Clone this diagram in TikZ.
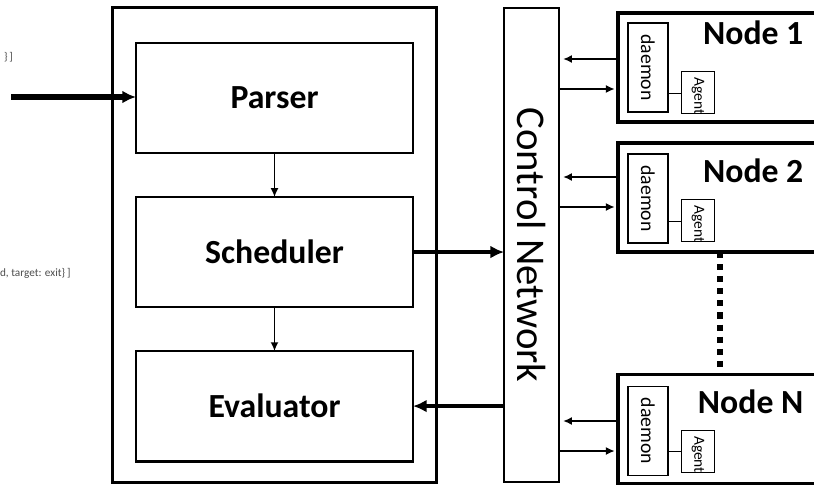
\documentclass[tikz,border=0pt]{standalone}
\usepackage{fontspec}
\setmainfont{Carlito}
\usetikzlibrary{arrows.meta,calc,positioning}

\begin{document}
\begin{tikzpicture}[x=0.025cm,y=-0.025cm,
  every node/.style={font=\fontsize{14}{16}\selectfont,outer sep=0pt},
  block/.style={draw,line width=2pt,minimum width=6.925cm,minimum height=2.75cm,
                font=\fontsize{24}{28}\selectfont\bfseries},
  outer/.style={draw,line width=2.1pt,minimum width=8.075cm,minimum height=11.85cm},
  net/.style={draw,line width=1.4pt,minimum width=1.375cm,minimum height=11.85cm,
              font=\fontsize{29}{34}\selectfont},
  host/.style={draw,line width=2.4pt,minimum width=5.1cm,minimum height=2.725cm},
  hostlabel/.style={font=\fontsize{24}{28}\selectfont\bfseries,anchor=base east},
  daemonbox/.style={draw,line width=1.2pt,minimum width=1cm,minimum height=2.225cm,
                    anchor=north west},
  agentbox/.style={draw,line width=0.7pt,minimum width=0.8cm,minimum height=1.05cm,
                   inner sep=0pt,font=\fontsize{11}{12}\selectfont,anchor=south west},
  stray/.style={font=\fontsize{8}{9}\selectfont,text=black!70,anchor=west,inner sep=0pt},
  arr/.style={-{Latex[length=2.2mm,width=2mm]},line width=1.4pt},
  bigarr/.style={-{Latex[length=3.4mm,width=3.2mm]},line width=3.2pt},
  dots/.style={line width=4.3pt,dash pattern=on 4.3pt off 4.3pt}
]
\useasboundingbox (0,0) rectangle (814,485);
\clip (0,0) rectangle (814,485);

% cut-off text at the left
\node[stray] (s1) at (4,57) {\}\,]};
\node[stray] (s2) at (0,273) {d, target: exit\}\,]};

% engine
\node[block] (parser) at (274.5,98) {Parser};
\node[block,below=1.1cm of parser] (scheduler) {Scheduler};
\node[block,below=1.1cm of scheduler] (evaluator) {Evaluator};
\node[outer] (engine) at (274.5,245) {};
\coordinate (in) at (11,97);
\draw[bigarr,line width=3.6pt] (in) -- (parser.west |- in);
\draw[arr] (parser.south) -- (scheduler.north);
\draw[arr] (scheduler.south) -- (evaluator.north);

% control network
\node[net,right=1.7cm of engine] (net) {\rotatebox{-90}{Control Network}};
\draw[bigarr] (scheduler.east) -- (scheduler.east -| net.west);
\draw[bigarr] (net.west |- evaluator.east) -- (evaluator.east);

% nodes
\node[host] (n1) at (720,67.5) {};
\node[host] (n2) at (720,197.5) {};
\node[host] (nN) at (720,429) {};
\node[hostlabel] (l1) at (808,45) {Node 1};
\node[hostlabel] (l2) at (808,183) {Node 2};
\node[hostlabel] (lN) at (808,413) {Node N};

\node[daemonbox] (d1) at ($(n1.north west)+(10,10)$) {\rotatebox{-90}{daemon}};
\node[daemonbox] (d2) at ($(n2.north west)+(10,11)$) {\rotatebox{-90}{daemon}};
\node[daemonbox] (dN) at ($(nN.north west)+(10,12)$) {\rotatebox{-90}{daemon}};
\node[agentbox] (a1) at ($(n1.north west)+(64,101)$)
 {\rotatebox{-90}{\makebox[1.05cm][l]{\hspace{4pt}Agent}}};
\node[agentbox] (a2) at ($(n2.north west)+(64,99)$)
 {\rotatebox{-90}{\makebox[1.05cm][l]{\hspace{4pt}Agent}}};
\node[agentbox] (aN) at ($(nN.north west)+(64,98)$)
 {\rotatebox{-90}{\makebox[1.05cm][l]{\hspace{4pt}Agent}}};
\draw[line width=0.6pt] (d1.east |- a1.west) -- (a1.west);
\draw[line width=0.6pt] (d2.east |- a2.west) -- (a2.west);
\draw[line width=0.6pt] (dN.east |- aN.west) -- (aN.west);

\draw[arr,shorten >=0.1cm] (n1.west |- 0,59) -- (net.east |- 0,59);
\draw[arr,shorten >=0.08cm] (net.east |- 0,89) -- (n1.west |- 0,89);
\draw[arr,shorten >=0.1cm] (n2.west |- 0,177) -- (net.east |- 0,177);
\draw[arr,shorten >=0.08cm] (net.east |- 0,207) -- (n2.west |- 0,207);
\draw[arr,shorten >=0.1cm] (nN.west |- 0,421) -- (net.east |- 0,421);
\draw[arr,shorten >=0.08cm] (net.east |- 0,451) -- (nN.west |- 0,451);

\draw[dots] (n2.south) -- (nN.north);
\end{tikzpicture}
\end{document}
